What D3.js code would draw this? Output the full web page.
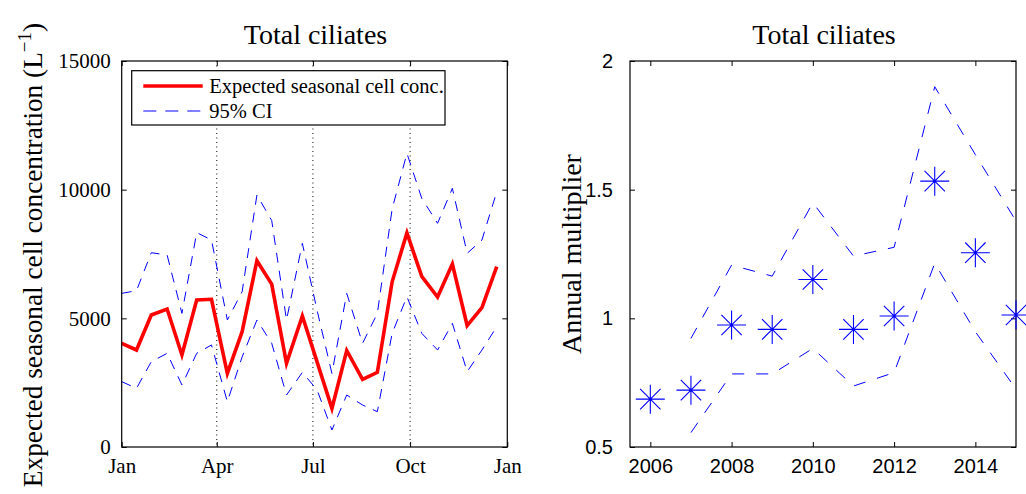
<!DOCTYPE html>
<html>
<head>
<meta charset="utf-8">
<script src="https://cdn.jsdelivr.net/npm/d3@7"></script>
<style>
  html, body { margin: 0; padding: 0; background: #fff; }
  svg { display: block; }
</style>
</head>
<body>
<svg id="chart" width="1026" height="494"></svg>
<script>
// ---------------- Data ----------------
// Left panel: seasonal pattern (day of year)
const seasonDays = [0, 14, 28, 43, 57, 71, 85, 100, 114, 128, 142, 156, 171, 185, 199, 213, 228, 242, 256, 270, 284, 299, 313, 327, 341, 355];
const expectedConc = [4030, 3770, 5130, 5360, 3575, 5710, 5740, 2860, 4480, 7240, 6330, 3250, 5090, 3300, 1500, 3750, 2630, 2900, 6420, 8320, 6630, 5830, 7110, 4720, 5420, 7010];
const upperConc = [5970, 6075, 7550, 7460, 5195, 8330, 8045, 4935, 6035, 9793, 8800, 4935, 7915, 5300, 2860, 5970, 4030, 5195, 9250, 11413, 9665, 8693, 10053, 7527, 8044, 9921];
const lowerConc = [2540, 2280, 3315, 3640, 2410, 3640, 3965, 1760, 3500, 4935, 4030, 2020, 2900, 2215, 660, 2020, 1632, 1373, 4418, 5840, 4418, 3770, 4807, 2927, 3770, 4675];
const monthTickDays = [0, 90, 181, 273, 365];
const monthTickLabels = ["Jan", "Apr", "Jul", "Oct", "Jan"];
const concTicks = [0, 5000, 10000, 15000];

// Right panel: annual multiplier
const years = [2006, 2007, 2008, 2009, 2010, 2011, 2012, 2013, 2014, 2015];
const multiplier = [0.686, 0.721, 0.974, 0.957, 1.151, 0.957, 1.009, 1.533, 1.255, 1.013];
const ciYears = [2007, 2008, 2009, 2010, 2011, 2012, 2013, 2014, 2015];
const multUpper = [0.922, 1.207, 1.164, 1.449, 1.242, 1.276, 1.900, 1.636, 1.378];
const multLower = [0.556, 0.784, 0.784, 0.883, 0.737, 0.789, 1.214, 0.948, 0.725];
const yearTicks = [2006, 2008, 2010, 2012, 2014];
const multTicks = [0.5, 1, 1.5, 2];

// ---------------- Layout ----------------
const svg = d3.select("#chart");
const SERIF = "'Liberation Serif', 'Times New Roman', serif";
const SANS = "'Liberation Sans', Arial, sans-serif";
const TICK = 5;

function frame(g, w, h) {
  g.append("rect").attr("x", 0).attr("y", 0).attr("width", w).attr("height", h)
    .attr("fill", "none").attr("stroke", "#000").attr("stroke-width", 1.2);
}

// ---------- Left panel ----------
const L = { x: 121.7, y: 61, w: 385.6, h: 386 };
const gL = svg.append("g").attr("transform", `translate(${L.x},${L.y})`);
const xL = d3.scaleLinear().domain([0, 365]).range([0, L.w]);
const yL = d3.scaleLinear().domain([0, 15000]).range([L.h, 0]);

// dotted vertical lines at inner month ticks
gL.selectAll("line.vgrid").data(monthTickDays.slice(1, 4)).join("line")
  .attr("class", "vgrid")
  .attr("x1", d => xL(d)).attr("x2", d => xL(d))
  .attr("y1", 0).attr("y2", L.h)
  .attr("stroke", "#000").attr("stroke-width", 1).attr("stroke-dasharray", "1,3.5");

const lineL = (vals) => d3.line().x((d, i) => xL(seasonDays[i])).y(d => yL(d))(vals);

gL.append("path").attr("d", lineL(upperConc)).attr("fill", "none")
  .attr("stroke", "#0000ff").attr("stroke-width", 1).attr("stroke-dasharray", "10,8");
gL.append("path").attr("d", lineL(lowerConc)).attr("fill", "none")
  .attr("stroke", "#0000ff").attr("stroke-width", 1).attr("stroke-dasharray", "10,8");
gL.append("path").attr("d", lineL(expectedConc)).attr("fill", "none")
  .attr("stroke", "#ff0000").attr("stroke-width", 3.6).attr("stroke-linejoin", "miter");

// axes (MATLAB style ticks inside, on all sides)
const axLB = d3.axisBottom(xL).tickValues(monthTickDays).tickFormat((d, i) => monthTickLabels[i])
  .tickSizeInner(-TICK).tickSizeOuter(0).tickPadding(11);
const axLL = d3.axisLeft(yL).tickValues(concTicks).tickFormat(d3.format("d"))
  .tickSizeInner(-TICK).tickSizeOuter(0).tickPadding(11);
const axLT = d3.axisTop(xL).tickValues(monthTickDays).tickFormat("").tickSizeInner(-TICK).tickSizeOuter(0);
const axLR = d3.axisRight(yL).tickValues(concTicks).tickFormat("").tickSizeInner(-TICK).tickSizeOuter(0);

function styleAxis(sel, font, size) {
  sel.select(".domain").remove();
  sel.selectAll(".tick line").attr("stroke", "#000").attr("stroke-width", 1);
  sel.selectAll(".tick text").attr("fill", "#000").style("font-family", font).style("font-size", size + "px");
}
gL.append("g").attr("transform", `translate(0,${L.h})`).call(axLB).call(s => styleAxis(s, SERIF, 21));
gL.append("g").call(axLL).call(s => styleAxis(s, SERIF, 21));
gL.append("g").call(axLT).call(s => styleAxis(s, SERIF, 21));
gL.append("g").attr("transform", `translate(${L.w},0)`).call(axLR).call(s => styleAxis(s, SERIF, 21));
frame(gL, L.w, L.h);

// legend
const leg = gL.append("g").attr("transform", "translate(10,9.7)");
leg.append("rect").attr("x", 0).attr("y", 0).attr("width", 313.3).attr("height", 54.3)
  .attr("fill", "#fff").attr("stroke", "#000").attr("stroke-width", 1.2);
leg.append("line").attr("x1", 11.6).attr("x2", 71).attr("y1", 15.3).attr("y2", 15.3)
  .attr("stroke", "#ff0000").attr("stroke-width", 3.6);
leg.append("line").attr("x1", 11.6).attr("x2", 71).attr("y1", 40.3).attr("y2", 40.3)
  .attr("stroke", "#0000ff").attr("stroke-width", 1).attr("stroke-dasharray", "13,9");
leg.append("text").attr("x", 77.6).attr("y", 22).text("Expected seasonal cell conc.")
  .style("font-family", SERIF).style("font-size", "20.5px");
leg.append("text").attr("x", 77.6).attr("y", 47).text("95% CI")
  .style("font-family", SERIF).style("font-size", "20.5px");

// title & y label
svg.append("text").attr("x", L.x + L.w / 2 + 1).attr("y", 44).attr("text-anchor", "middle")
  .text("Total ciliates").style("font-family", SERIF).style("font-size", "28px");
const ylab = svg.append("text").attr("transform", `translate(42,255) rotate(-90)`)
  .attr("text-anchor", "middle").style("font-family", SERIF).style("font-size", "27.3px");
ylab.append("tspan").text("Expected seasonal cell concentration (L");
ylab.append("tspan").attr("dy", -11).style("font-size", "19px").text("\u22121");
ylab.append("tspan").attr("dy", 11).text(")");

// ---------- Right panel ----------
const R = { x: 630, y: 61, w: 386, h: 386 };
const gR = svg.append("g").attr("transform", `translate(${R.x},${R.y})`);
const xR = d3.scaleLinear().domain([2005.5, 2015]).range([0, R.w]);
const yR = d3.scaleLinear().domain([0.5, 2]).range([R.h, 0]);

const axRB = d3.axisBottom(xR).tickValues(yearTicks).tickFormat(d3.format("d"))
  .tickSizeInner(-TICK).tickSizeOuter(0).tickPadding(12);
const axRL = d3.axisLeft(yR).tickValues(multTicks).tickFormat(d => String(d))
  .tickSizeInner(-TICK).tickSizeOuter(0).tickPadding(17);
const axRT = d3.axisTop(xR).tickValues(yearTicks).tickFormat("").tickSizeInner(-TICK).tickSizeOuter(0);
const axRR = d3.axisRight(yR).tickValues(multTicks).tickFormat("").tickSizeInner(-TICK).tickSizeOuter(0);
gR.append("g").attr("transform", `translate(0,${R.h})`).call(axRB).call(s => styleAxis(s, SANS, 20));
gR.append("g").call(axRL).call(s => styleAxis(s, SANS, 20));
gR.append("g").call(axRT).call(s => styleAxis(s, SANS, 20));
gR.append("g").attr("transform", `translate(${R.w},0)`).call(axRR).call(s => styleAxis(s, SANS, 20));

const lineR = (vals) => d3.line().x((d, i) => xR(ciYears[i])).y(d => yR(d))(vals);
gR.append("path").attr("d", lineR(multUpper)).attr("fill", "none")
  .attr("stroke", "#0000ff").attr("stroke-width", 1).attr("stroke-dasharray", "12,12");
gR.append("path").attr("d", lineR(multLower)).attr("fill", "none")
  .attr("stroke", "#0000ff").attr("stroke-width", 1).attr("stroke-dasharray", "12,12");

frame(gR, R.w, R.h);

// asterisk markers
const S = 14.5, D = 10.2;
const stars = gR.selectAll("g.star").data(years.map((y, i) => [y, multiplier[i]])).join("g")
  .attr("class", "star")
  .attr("transform", d => `translate(${xR(d[0])},${yR(d[1])})`);
stars.append("path")
  .attr("d", `M${-S},0H${S}M0,${-S}V${S}M${-D},${-D}L${D},${D}M${-D},${D}L${D},${-D}`)
  .attr("stroke", "#0000ff").attr("stroke-width", 1.1).attr("fill", "none");
stars.append("circle").attr("r", 1.3).attr("fill", "#0000ff");

svg.append("text").attr("x", R.x + R.w / 2 + 1).attr("y", 44).attr("text-anchor", "middle")
  .text("Total ciliates").style("font-family", SERIF).style("font-size", "28px");
svg.append("text").attr("transform", `translate(581,${R.y + R.h / 2}) rotate(-90)`)
  .attr("text-anchor", "middle").text("Annual multiplier")
  .style("font-family", SERIF).style("font-size", "28px");
</script>
</body>
</html>
